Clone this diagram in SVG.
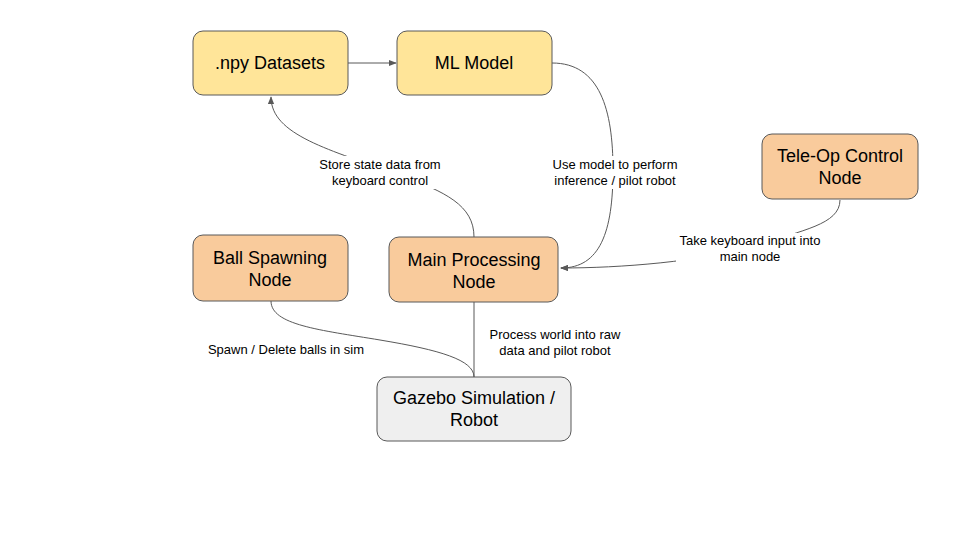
<svg xmlns="http://www.w3.org/2000/svg" width="960" height="540" viewBox="0 0 960 540">
<style>
.node rect{stroke:#595959;stroke-width:1}
.y{fill:#ffe599}
.o{fill:#f9cb9c}
.g{fill:#efefef}
.nt{font-family:"Liberation Sans",Arial,sans-serif;font-size:18px;fill:#000;text-anchor:middle}
.lt{font-family:"Liberation Sans",Arial,sans-serif;font-size:13px;fill:#000;text-anchor:middle}
.c{fill:none;stroke:#595959;stroke-width:1}
.lb{fill:#fff}
</style>
<defs>
<marker id="ah" viewBox="0 0 10 10" refX="9" refY="5" markerWidth="8" markerHeight="8" markerUnits="userSpaceOnUse" orient="auto">
<path d="M0,1 L10,5 L0,9 z" fill="#595959"/>
</marker>
</defs>
<rect width="960" height="540" fill="#fff"/>
<g id="connectors">
<path class="c" d="M348,63 L396,63" marker-end="url(#ah)"/>
<path class="c" d="M552,63 C600,63 613,110 613,170 C613,232 600,268 561,268" marker-end="url(#ah)"/>
<path class="c" d="M474,237 C474,205 445,192 400,175 C330,150 271,135 271,97" marker-end="url(#ah)"/>
<path class="c" d="M840,200 C840,225 800,230 760,245 C700,262 620,268 561,268" marker-end="url(#ah)"/>
<path class="c" d="M271,301 C271,325 320,330 380,340 C440,350 474,360 474,377"/>
<path class="c" d="M474,302 L474,377"/>
</g>
<g id="labels">
<rect class="lb" x="316" y="156" width="128" height="33"/>
<text class="lt" x="380" y="169">Store state data from</text>
<text class="lt" x="380" y="185">keyboard control</text>
<rect class="lb" x="549" y="156" width="132" height="33"/>
<text class="lt" x="615" y="169">Use model to perform</text>
<text class="lt" x="615" y="185">inference / pilot robot</text>
<rect class="lb" x="676" y="233" width="148" height="32"/>
<text class="lt" x="750" y="245">Take keyboard input into</text>
<text class="lt" x="750" y="261">main node</text>
<text class="lt" x="555" y="339">Process world into raw</text>
<text class="lt" x="555" y="355">data and pilot robot</text>
<text class="lt" x="286" y="354">Spawn / Delete balls in sim</text>
</g>
<g id="npy" class="node">
<rect class="y" x="193" y="31" width="155" height="64" rx="10"/>
<text class="nt" x="270" y="69">.npy Datasets</text>
</g>
<g id="ml" class="node">
<rect class="y" x="397" y="31" width="155" height="64" rx="10"/>
<text class="nt" x="474" y="69">ML Model</text>
</g>
<g id="teleop" class="node">
<rect class="o" x="762" y="134" width="156" height="65" rx="10"/>
<text class="nt" x="840" y="162">Tele-Op Control</text>
<text class="nt" x="840" y="184">Node</text>
</g>
<g id="ball" class="node">
<rect class="o" x="193" y="235" width="155" height="66" rx="10"/>
<text class="nt" x="270" y="264">Ball Spawning</text>
<text class="nt" x="270" y="286">Node</text>
</g>
<g id="main" class="node">
<rect class="o" x="389" y="237" width="169" height="65" rx="10"/>
<text class="nt" x="474" y="266">Main Processing</text>
<text class="nt" x="474" y="288">Node</text>
</g>
<g id="gazebo" class="node">
<rect class="g" x="377" y="377" width="194" height="64" rx="10"/>
<text class="nt" x="474" y="404">Gazebo Simulation /</text>
<text class="nt" x="474" y="426">Robot</text>
</g>
</svg>
